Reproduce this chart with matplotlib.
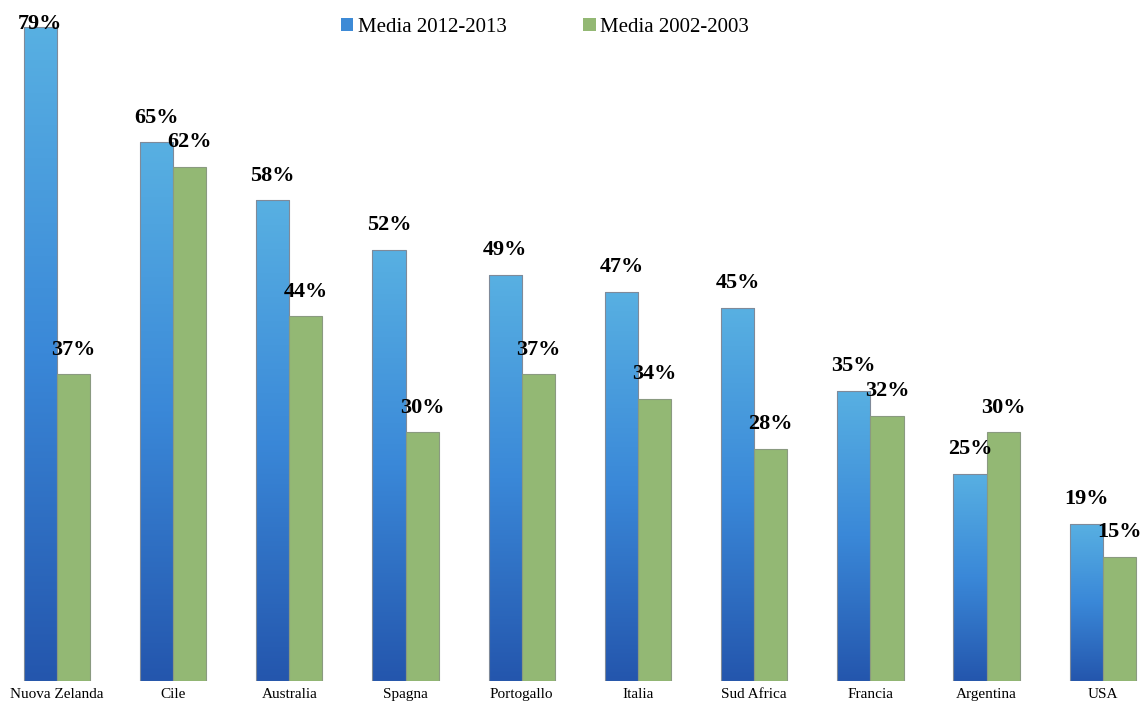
import matplotlib.pyplot as plt
import numpy as np
from matplotlib.colors import LinearSegmentedColormap
from matplotlib.patches import Patch

paesi = ["Nuova Zelanda", "Cile", "Australia", "Spagna", "Portogallo",
         "Italia", "Sud Africa", "Francia", "Argentina", "USA"]
media_2012 = [79, 65, 58, 52, 49, 47, 45, 35, 25, 19]
media_2002 = [37, 62, 44, 30, 37, 34, 28, 32, 30, 15]

serif = ["Liberation Serif", "DejaVu Serif"]
plt.rcParams['font.family'] = serif

blu = LinearSegmentedColormap.from_list("blu", ["#2456ad", "#3a88d8", "#58b0e2"])
verde = "#93b874"

fig = plt.figure(figsize=(11.4, 7.04), dpi=100)
ax = fig.add_axes([0, 23 / 704, 1, 681 / 704])

x = np.arange(len(paesi))
w = 0.285
b1 = ax.bar(x - w / 2, media_2012, w, color="none", edgecolor="#7f8a99", linewidth=0.8, zorder=3)
b2 = ax.bar(x + w / 2, media_2002, w, color=verde, edgecolor="#8a9a80", linewidth=0.8, zorder=3)

# gradiente verticale per le barre blu
grad = np.linspace(0, 1, 256).reshape(-1, 1)
for r in b1:
    x0, y0 = r.get_x(), r.get_y()
    im = ax.imshow(grad, cmap=blu, origin="lower", aspect="auto",
                   extent=(x0, x0 + r.get_width(), y0, y0 + r.get_height()), zorder=2)
    im.set_clip_path(r)

for xi, v in zip(x, media_2012):
    ax.text(xi - w / 2, min(v + 3.0, 79.3), f"{v}%", ha="center", va="center",
            fontsize=16, fontweight="bold", zorder=5)
for xi, v in zip(x, media_2002):
    ax.text(xi + w / 2, min(v + 3.0, 79.3), f"{v}%", ha="center", va="center",
            fontsize=16, fontweight="bold", zorder=5)

ax.set_xlim(-0.49, 9.32)
ax.set_ylim(0, 82.2)
ax.set_xticks(x)
ax.set_xticklabels(paesi, fontsize=11)
ax.tick_params(axis="x", length=0, pad=5)
ax.set_yticks([])
for s in ax.spines.values():
    s.set_visible(False)

handles = [Patch(facecolor="#3d8ad6", edgecolor="none"), Patch(facecolor=verde, edgecolor="none")]
fig.legend(handles, ["Media 2012-2013", "Media 2002-2003"], loc="center",
           bbox_to_anchor=(0.478, 1 - 27 / 704), ncol=2, frameon=False, fontsize=15,
           handlelength=0.6, handleheight=0.6, handletextpad=0.2, columnspacing=3.7)

fig.savefig("out.png", dpi=100)
